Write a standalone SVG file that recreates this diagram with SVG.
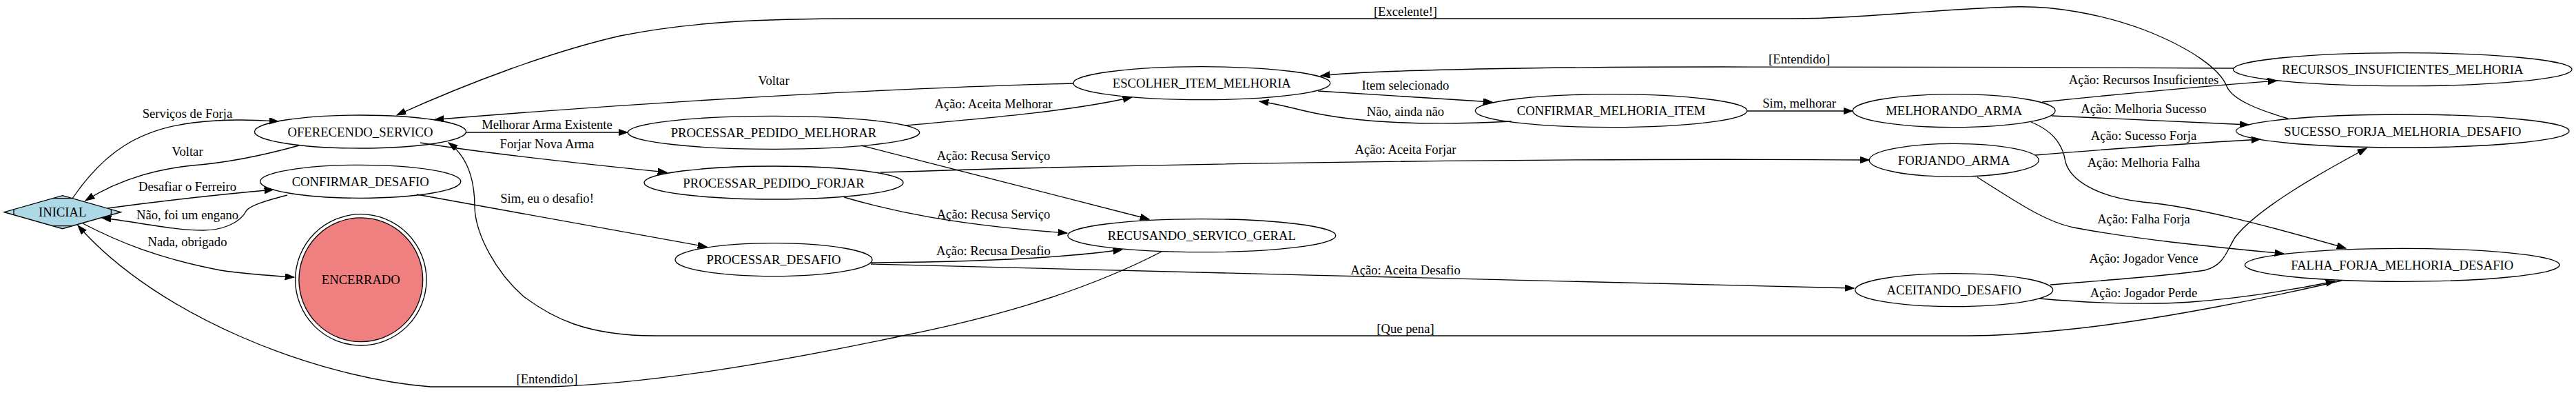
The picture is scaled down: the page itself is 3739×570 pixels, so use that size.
<svg xmlns="http://www.w3.org/2000/svg" width="3739" height="570" viewBox="0 0 3739 570">
<defs>
<style>
text{font-family:"Liberation Serif","Times New Roman",serif;font-size:18.67px;fill:#000;text-anchor:middle}
.n{fill:none;stroke:#000;stroke-width:1.33}
.e path{fill:none;stroke:#000;stroke-width:1.33;marker-end:url(#ah)}
</style>
<marker id="ah" markerUnits="userSpaceOnUse" markerWidth="14" markerHeight="10" refX="13.3" refY="4.67" orient="auto">
<path d="M0,0 L13.3,4.67 L0,9.33 z" fill="#000" stroke="#000" stroke-width="1"/>
</marker>
</defs>
<rect width="3739" height="570" fill="#fff"/>
<g id="edges" class="e">
<path d="M105,288 C150,222 200,188 280,178 C330,172 370,174 404,176"/>
<path d="M434,211 C380,226 330,236 279,240 C220,246 170,262 124,291"/>
<path d="M156,302 C230,292 320,282 397,275"/>
<path d="M417,283 C390,290 365,297 358,305 C348,325 320,334 295,334 C250,334 200,322 148,316"/>
<path d="M120,324 C170,350 230,375 320,392 C360,398 395,400 427,402"/>
<path d="M1686,365 C1560,430 1420,465 1310,487 C1130,525 950,556 800,561 L625,561 C460,548 230,460 113,327"/>
<path d="M3399,407 C3300,430 3130,465 3000,478 C2930,485 2880,487 2860,487 L950,487 C850,487 800,460 760,430 C720,395 690,340 689,300 C689,262 680,228 651,207"/>
<path d="M3321,172 C3280,160 3240,145 3232,125 C3222,100 3180,70 3114,44 C3050,20 2980,8 2920,10 C2800,14 2700,27 2600,27 L1250,27 C1100,27 1000,32 900,52 C800,75 680,120 576,167"/>
<path d="M677,192 L911,192"/>
<path d="M610,207 C700,222 850,238 968,250"/>
<path d="M605,282 L1026,358"/>
<path d="M1558,121 C1350,126 1000,143 631,173.5"/>
<path d="M1314,182 C1450,170 1560,160 1643,141"/>
<path d="M1250,211 L1668,318"/>
<path d="M1225,286 C1290,305 1380,326 1549,338"/>
<path d="M1263,381 C1400,380 1540,375 1629,362"/>
<path d="M1264,383 C1700,395 2300,408 2691,418"/>
<path d="M1278,250 C1700,236 2300,229 2713,232"/>
<path d="M1913,132 L2166,148"/>
<path d="M2194,176 C2100,181 1980,182 1890,160 C1870,155 1850,150 1828,147"/>
<path d="M2536,161 L2689,161"/>
<path d="M3242,99 C3000,98 2700,96 2500,97 C2300,97 2000,100 1917,110"/>
<path d="M2964,148 C3080,136 3200,125 3305,117"/>
<path d="M2978,168 C3080,172 3180,177 3264,181"/>
<path d="M2954,225 C3060,216 3180,208 3281,202"/>
<path d="M2948,177 C2985,192 2995,215 2998,235 C3005,260 3040,285 3110,293 C3190,300 3300,330 3405,360"/>
<path d="M2870,257 C2930,295 2970,322 3010,330 C3100,347 3200,357 3315,368"/>
<path d="M2976,413 C3050,407 3150,400 3200,392 C3230,385 3233,360 3245,343 C3280,300 3370,250 3435,215"/>
<path d="M2960,433 C3040,440 3120,442 3180,438 C3260,432 3330,420 3389,408"/>
</g>
<g id="edge-labels">
<text x="272" y="170.7">Serviços de Forja</text>
<text x="272" y="226">Voltar</text>
<text x="272" y="277.3">Desafiar o Ferreiro</text>
<text x="272" y="317.7">Não, foi um engano</text>
<text x="272" y="356.7">Nada, obrigado</text>
<text x="794" y="555.7">[Entendido]</text>
<text x="1123" y="122.7">Voltar</text>
<text x="794" y="187.3">Melhorar Arma Existente</text>
<text x="794" y="215">Forjar Nova Arma</text>
<text x="794" y="294.3">Sim, eu o desafio!</text>
<text x="1442" y="156.7">Ação: Aceita Melhorar</text>
<text x="1442" y="231.7">Ação: Recusa Serviço</text>
<text x="1442" y="316.7">Ação: Recusa Serviço</text>
<text x="1442" y="370">Ação: Recusa Desafio</text>
<text x="2040" y="22.7">[Excelente!]</text>
<text x="2040" y="130">Item selecionado</text>
<text x="2040" y="168.3">Não, ainda não</text>
<text x="2040" y="223.3">Ação: Aceita Forjar</text>
<text x="2040" y="397.7">Ação: Aceita Desafio</text>
<text x="2040" y="483.3">[Que pena]</text>
<text x="2611.6" y="91.7">[Entendido]</text>
<text x="2611.6" y="155.7">Sim, melhorar</text>
<text x="3111.5" y="121.7">Ação: Recursos Insuficientes</text>
<text x="3111.5" y="164.3">Ação: Melhoria Sucesso</text>
<text x="3111.5" y="203.3">Ação: Sucesso Forja</text>
<text x="3111.5" y="242.3">Ação: Melhoria Falha</text>
<text x="3111.5" y="324.3">Ação: Falha Forja</text>
<text x="3111.5" y="381">Ação: Jogador Vence</text>
<text x="3111.5" y="430.7">Ação: Jogador Perde</text>
</g>
<g id="INICIAL">
<polygon points="90.7,283.7 175.4,307.7 90.7,331.7 6,307.7" fill="#add8e6" stroke="#000" stroke-width="1.33"/>
<path d="M20,303.7 V311.7 M161.4,303.7 V311.7 M76.7,287.7 H104.7 M76.7,327.7 H104.7" class="n"/>
<text x="90.7" y="314.3">INICIAL</text>
</g>
<g id="ENCERRADO">
<circle cx="523.8" cy="405.8" r="95.2" class="n"/>
<circle cx="523.8" cy="405.8" r="89.9" fill="#f08080" stroke="#000" stroke-width="1.33"/>
<text x="523.8" y="411.7">ENCERRADO</text>
</g>
<g id="OFERECENDO_SERVICO">
<ellipse cx="523" cy="191" rx="153.5" ry="24" class="n"/>
<text x="523" y="197.6">OFERECENDO_SERVICO</text>
</g>
<g id="CONFIRMAR_DESAFIO">
<ellipse cx="523.2" cy="263.3" rx="145.6" ry="24" class="n"/>
<text x="523.2" y="269.9">CONFIRMAR_DESAFIO</text>
</g>
<g id="PROCESSAR_PEDIDO_MELHORAR">
<ellipse cx="1123" cy="192.3" rx="211.7" ry="24" class="n"/>
<text x="1123" y="198.9">PROCESSAR_PEDIDO_MELHORAR</text>
</g>
<g id="PROCESSAR_PEDIDO_FORJAR">
<ellipse cx="1123" cy="265" rx="188" ry="24" class="n"/>
<text x="1123" y="271.6">PROCESSAR_PEDIDO_FORJAR</text>
</g>
<g id="PROCESSAR_DESAFIO">
<ellipse cx="1123" cy="376.7" rx="143" ry="24" class="n"/>
<text x="1123" y="383.3">PROCESSAR_DESAFIO</text>
</g>
<g id="ESCOLHER_ITEM_MELHORIA">
<ellipse cx="1744.3" cy="120.7" rx="186.5" ry="24" class="n"/>
<text x="1744.3" y="127.3">ESCOLHER_ITEM_MELHORIA</text>
</g>
<g id="RECUSANDO_SERVICO_GERAL">
<ellipse cx="1744.3" cy="341.7" rx="194.5" ry="24" class="n"/>
<text x="1744.3" y="348.3">RECUSANDO_SERVICO_GERAL</text>
</g>
<g id="CONFIRMAR_MELHORIA_ITEM">
<ellipse cx="2338.6" cy="160.7" rx="197.3" ry="24" class="n"/>
<text x="2338.6" y="167.3">CONFIRMAR_MELHORIA_ITEM</text>
</g>
<g id="MELHORANDO_ARMA">
<ellipse cx="2836.2" cy="160.7" rx="146.9" ry="24" class="n"/>
<text x="2836.2" y="167.3">MELHORANDO_ARMA</text>
</g>
<g id="FORJANDO_ARMA">
<ellipse cx="2836.2" cy="232.3" rx="123" ry="24" class="n"/>
<text x="2836.2" y="238.9">FORJANDO_ARMA</text>
</g>
<g id="ACEITANDO_DESAFIO">
<ellipse cx="2836.2" cy="420.7" rx="143.5" ry="24" class="n"/>
<text x="2836.2" y="427.3">ACEITANDO_DESAFIO</text>
</g>
<g id="RECURSOS_INSUFICIENTES_MELHORIA">
<ellipse cx="3487.3" cy="100.7" rx="245.7" ry="24" class="n"/>
<text x="3487.3" y="107.3">RECURSOS_INSUFICIENTES_MELHORIA</text>
</g>
<g id="SUCESSO_FORJA_MELHORIA_DESAFIO">
<ellipse cx="3487.3" cy="190" rx="241.7" ry="24" class="n"/>
<text x="3487.3" y="196.6">SUCESSO_FORJA_MELHORIA_DESAFIO</text>
</g>
<g id="FALHA_FORJA_MELHORIA_DESAFIO">
<ellipse cx="3486.7" cy="384.3" rx="228.4" ry="24" class="n"/>
<text x="3486.7" y="390.9">FALHA_FORJA_MELHORIA_DESAFIO</text>
</g>
</svg>
